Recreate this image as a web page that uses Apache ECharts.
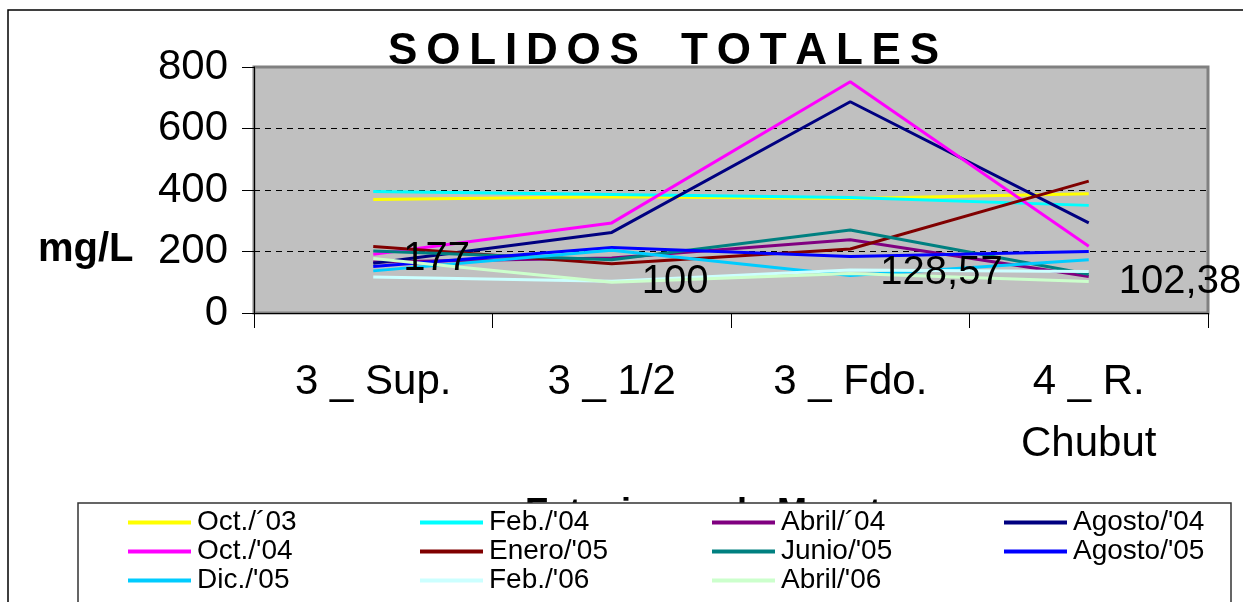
<!DOCTYPE html>
<html>
<head>
<meta charset="utf-8">
<script src="https://cdn.jsdelivr.net/npm/echarts@6/dist/echarts.min.js"></script>
<style>
html,body{margin:0;padding:0;background:#fff;}
#chart{width:1243px;height:602px;}
</style>
</head>
<body>
<div id="chart"></div>
<script>
// ---- data ----
const categories = ['3 _ Sup.', '3 _ 1/2', '3 _ Fdo.', '4 _ R.\nChubut'];
const yTicks = [0, 200, 400, 600, 800];
const oct03   = [369, 378, 372, 388];
const feb04   = [395, 385, 376, 350];
const abril04 = [166, 179, 238, 119];
const agosto04 = [162, 262, 687, 293];
const oct04   = [191, 293, 752, 217];
const enero05 = [216, 160, 208, 429];
const junio05 = [202, 173, 270, 126];
const agosto05 = [151, 213, 184, 200];
const dic05   = [137, 204, 122, 173];
const feb06   = [117, 103, 140, 135];
const abril06 = [177, 100, 128.57, 102.38];

const seriesDefs = [
  { name: 'Oct./\u00b403',   data: oct03,    color: '#ffff00' },
  { name: "Feb./'04",        data: feb04,    color: '#00ffff' },
  { name: 'Abril/\u00b404',  data: abril04,  color: '#800080' },
  { name: "Agosto/'04",      data: agosto04, color: '#000080' },
  { name: "Oct./'04",        data: oct04,    color: '#ff00ff' },
  { name: "Enero/'05",       data: enero05,  color: '#800000' },
  { name: "Junio/'05",       data: junio05,  color: '#008080' },
  { name: "Agosto/'05",      data: agosto05, color: '#0000ff' },
  { name: "Dic./'05",        data: dic05,    color: '#00ccff' },
  { name: "Feb./'06",        data: feb06,    color: '#ccffff' },
  { name: "Abril/'06",       data: abril06,  color: '#ccffcc', labels: true }
];

const NARROW = '"Liberation Sans Narrow", "Arial Narrow", "Liberation Sans", Arial, sans-serif';
const SANS = '"Liberation Sans", Arial, sans-serif';

const chart = echarts.init(document.getElementById('chart'), null, { renderer: 'canvas' });

const series = seriesDefs.map(s => ({
  name: s.name,
  type: 'line',
  data: s.data,
  symbol: 'circle',
  symbolSize: 0.1,
  showSymbol: !!s.labels,
  smooth: false,
  lineStyle: { color: s.color, width: 3 },
  itemStyle: { color: s.color },
  emphasis: { disabled: true },
  label: s.labels ? {
    show: true,
    position: 'right',
    distance: 30,
    color: '#000',
    fontFamily: NARROW,
    fontSize: 40,
    formatter: p => String(p.value).replace('.', ',')
  } : { show: false }
}));

const thin = '\u2009';
const titleText = 'SOLIDOS'.split('').join(thin) + thin + '  ' + thin + 'TOTALES'.split('').join(thin);

chart.setOption({
  animation: false,
  backgroundColor: '#ffffff',
  title: {
    text: titleText,
    left: 388,
    top: 30,
    padding: 0,
    textStyle: { fontFamily: SANS, fontSize: 44, fontWeight: 'bold', color: '#000' }
  },
  grid: {
    left: 254, top: 67, right: 35, bottom: 289,
    show: true,
    backgroundColor: '#c0c0c0',
    borderColor: '#808080',
    borderWidth: 3
  },
  xAxis: {
    type: 'category',
    data: categories,
    boundaryGap: true,
    name: 'Estaciones de Muestreo',
    nameLocation: 'middle',
    nameGap: 183,
    nameTextStyle: { fontFamily: SANS, fontSize: 36, fontWeight: 'bold', color: '#000' },
    axisLine: { show: true, lineStyle: { color: '#000', width: 1 } },
    axisTick: { show: true, alignWithLabel: false, length: 15, lineStyle: { color: '#000' } },
    axisLabel: {
      color: '#000', fontFamily: NARROW, fontSize: 42, lineHeight: 62, margin: 38,
      interval: 0
    },
    splitLine: { show: false }
  },
  yAxis: {
    type: 'value',
    min: 0, max: 800, interval: 200,
    axisLine: { show: true, lineStyle: { color: '#000', width: 1 } },
    axisTick: { show: true, length: 12, lineStyle: { color: '#000' } },
    axisLabel: {
      color: '#000', fontFamily: NARROW, fontSize: 42, margin: 26,
      formatter: v => (yTicks.indexOf(v) >= 0 ? String(v) : '')
    },
    splitLine: {
      show: true, showMinLine: false, showMaxLine: false,
      lineStyle: { color: '#000', type: [6, 5], width: 1 }
    }
  },
  legend: {
    left: 128,
    top: 508,
    width: 1170,
    padding: 0,
    itemGap: 0,
    itemWidth: 63,
    itemHeight: 4,
    icon: 'rect',
    z: 20,
    textStyle: { fontFamily: NARROW, fontSize: 28, color: '#000', width: 223, lineHeight: 29, padding: [0,0,0,1] },
    data: seriesDefs.map(s => s.name)
  },
  graphic: [
    {
      type: 'rect', z: -10, silent: true,
      shape: { x: 8, y: 10, width: 1260, height: 700 },
      style: { fill: 'none', stroke: '#000', lineWidth: 1.5 }
    },
    {
      type: 'rect', z: 10, silent: true,
      shape: { x: 78, y: 503, width: 1153, height: 200 },
      style: { fill: '#ffffff', stroke: '#333', lineWidth: 1.5 }
    },
    {
      type: 'text', z: 5, silent: true,
      left: 38, top: 230,
      style: { text: 'mg/L', fontFamily: SANS, fontSize: 40, fontWeight: 'bold', fill: '#000' }
    }
  ],
  series: series
});
</script>
</body>
</html>
